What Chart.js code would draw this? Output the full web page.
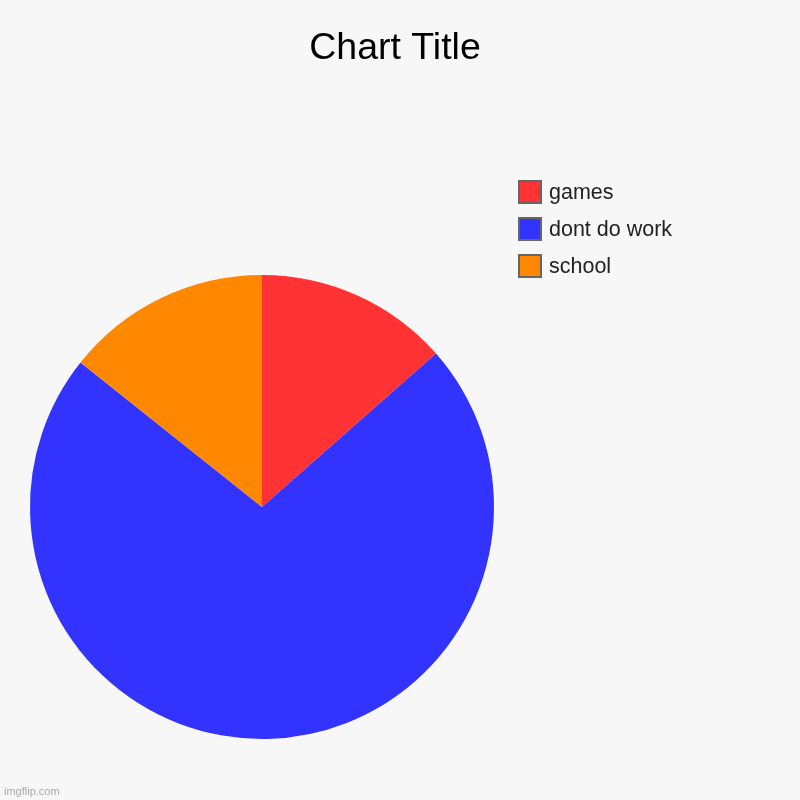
<!DOCTYPE html>
<html>
<head>
<meta charset="utf-8">
<script src="https://cdn.jsdelivr.net/npm/chart.js@4"></script>
<style>
  body { margin: 0; background: #f7f7f7; }
  #wrap { width: 800px; height: 800px; }
</style>
</head>
<body>
<div id="wrap"><canvas id="chart" width="800" height="800"></canvas></div>
<script>
// data
var labels = ["games", "dont do work", "school"];
var values = [13.5, 72.2, 14.3];
var colors = ["#ff3333", "#3333ff", "#ff8800"];

// titel, legenda en watermerk zelf tekenen
var extras = {
    id: "extras",
    beforeDraw: function (chart) {
        var c = chart.ctx;
        c.save();
        c.fillStyle = "#f7f7f7";
        c.fillRect(0, 0, chart.width, chart.height);
        c.restore();
    },
    afterDraw: function (chart) {
        var c = chart.ctx;
        c.save();
        c.fillStyle = "#000";
        c.font = "37.5px 'Liberation Sans', Arial, sans-serif";
        c.textAlign = "center";
        c.textBaseline = "alphabetic";
        c.fillText("Chart Title", 395, 59);

        c.textAlign = "left";
        c.textBaseline = "middle";
        c.font = "21.5px 'Liberation Sans', Arial, sans-serif";
        for (var i = 0; i < labels.length; i++) {
            var y = 192 + i * 37;
            c.fillStyle = "#666";
            c.fillRect(518, y - 12, 24, 24);
            c.fillStyle = colors[i];
            c.fillRect(520, y - 10, 20, 20);
            c.fillStyle = "#222";
            c.fillText(labels[i], 549, y + 1);
        }

        c.font = "11px 'Liberation Sans', Arial, sans-serif";
        c.fillStyle = "#aaa";
        c.fillText("imgflip.com", 4, 792);
        c.restore();
    }
};

var ctx = document.getElementById("chart").getContext("2d");
var chart = new Chart(ctx, {
    type: "pie",
    data: {
        labels: labels,
        datasets: [
            {
                data: values,
                backgroundColor: colors,
                borderWidth: 0,
            },
        ],
    },
    options: {
        responsive: false,
        animation: false,
        layout: { padding: { left: 30, right: 306, top: 275, bottom: 61 } },
        plugins: {
            legend: { display: false },
            title: { display: false },
            tooltip: { enabled: false },
        },
    },
    plugins: [extras],
});
</script>
</body>
</html>
